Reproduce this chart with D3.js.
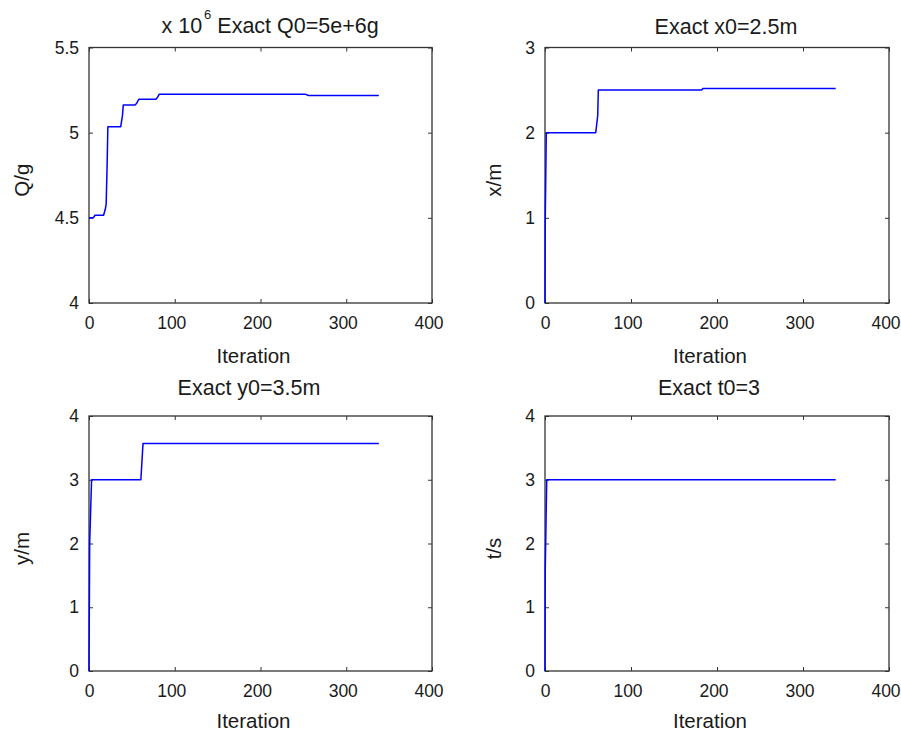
<!DOCTYPE html>
<html>
<head>
<meta charset="utf-8">
<script src="https://cdn.jsdelivr.net/npm/d3@7/dist/d3.min.js"></script>
<style>
body { margin: 0; background: #fff; }
text { font-family: "Liberation Sans", Arial, Helvetica, sans-serif; fill: #1a1a1a; }
</style>
</head>
<body>
<script>
// Configuration
var width = 901;
var height = 733;
var lineColor = '#0000ff';
var axisColor = '#333333';
var tickLen = 4;

// Data
var iterQ = [0, 5, 7, 17, 19, 20, 21, 22, 37, 39, 40, 54, 56, 58, 78, 80, 82, 252, 256, 338];
var valQ = [4.50, 4.50, 4.515, 4.515, 4.55, 4.58, 4.78, 5.035, 5.035, 5.10, 5.163, 5.163, 5.176, 5.196, 5.196, 5.208, 5.226, 5.226, 5.218, 5.218]; // x 10^6 g

var iterX = [0, 0.3, 1.5, 59, 61.3, 62, 182, 184, 338];
var valX = [0, 1.0, 2.0, 2.0, 2.2, 2.5, 2.5, 2.52, 2.52];

var iterY = [0, 0.8, 3, 60.5, 61.8, 63, 338];
var valY = [0, 2.0, 3.0, 3.0, 3.3, 3.57, 3.57];

var iterT = [0, 0.3, 2, 338];
var valT = [0, 1.6, 3.0, 3.0];

var xTicks = [0, 100, 200, 300, 400];
var qTicks = [4, 4.5, 5, 5.5];
var xPosTicks = [0, 1, 2, 3];
var yPosTicks = [0, 1, 2, 3, 4];
var tTicks = [0, 1, 2, 3, 4];

var titles = ['Exact Q0=5e+6g', 'Exact x0=2.5m', 'Exact y0=3.5m', 'Exact t0=3'];
var yLabels = ['Q/g', 'x/m', 'y/m', 't/s'];
var xLabel = 'Iteration';

// Panel layout
var panels = [
    { iters: iterQ, values: valQ, yDomain: [4, 5.5], yTicks: qTicks, title: titles[0], ylabel: yLabels[0],
      left: 89, right: 432, top: 47.5, bottom: 303, titleX: 298, titleY: 33, ylabelX: 29, xlabelDy: 60 },
    { iters: iterX, values: valX, yDomain: [0, 3], yTicks: xPosTicks, title: titles[1], ylabel: yLabels[1],
      left: 545, right: 889, top: 47.5, bottom: 303, titleX: 726, titleY: 34, ylabelX: 501, xlabelDy: 60 },
    { iters: iterY, values: valY, yDomain: [0, 4], yTicks: yPosTicks, title: titles[2], ylabel: yLabels[2],
      left: 89, right: 432, top: 416, bottom: 671, titleX: 249, titleY: 395, ylabelX: 29, xlabelDy: 57 },
    { iters: iterT, values: valT, yDomain: [0, 4], yTicks: tTicks, title: titles[3], ylabel: yLabels[3],
      left: 545, right: 889, top: 416, bottom: 671, titleX: 709, titleY: 395, ylabelX: 501, xlabelDy: 57 }
];

var svg = d3.select('body')
    .append('svg')
    .attr('width', width)
    .attr('height', height);

panels.forEach(function(p) {
    var x = d3.scaleLinear().domain([0, 400]).range([p.left, p.right]);
    var y = d3.scaleLinear().domain(p.yDomain).range([p.bottom, p.top]);
    var g = svg.append('g');

    // bottom axis with labels, ticks pointing inside
    var bottomAxis = g.append('g')
        .attr('transform', 'translate(0,' + p.bottom + ')')
        .call(d3.axisBottom(x).tickValues(xTicks).tickSizeInner(-tickLen).tickSizeOuter(0).tickPadding(14)
            .tickFormat(function(d) { return String(d); }));
    bottomAxis.selectAll('text')
        .attr('dx', function(d) { return d === 0 ? 0 : -3.5; });

    var leftAxis = g.append('g')
        .attr('transform', 'translate(' + p.left + ',0)')
        .call(d3.axisLeft(y).tickValues(p.yTicks).tickSizeInner(-tickLen).tickSizeOuter(0).tickPadding(10)
            .tickFormat(function(d) { return String(d); }));
    var topAxis = g.append('g')
        .attr('transform', 'translate(0,' + p.top + ')')
        .call(d3.axisTop(x).tickValues(xTicks).tickSizeInner(-tickLen).tickSizeOuter(0).tickFormat(''));
    var rightAxis = g.append('g')
        .attr('transform', 'translate(' + p.right + ',0)')
        .call(d3.axisRight(y).tickValues(p.yTicks).tickSizeInner(-tickLen).tickSizeOuter(0).tickFormat(''));

    [bottomAxis, leftAxis, topAxis, rightAxis].forEach(function(a) {
        a.select('.domain').remove();
        a.selectAll('line').attr('stroke', axisColor);
        a.selectAll('text')
            .attr('font-size', 17.5)
            .attr('fill', '#1a1a1a')
            .attr('font-family', '"Liberation Sans", Arial, Helvetica, sans-serif');
    });

    // box
    g.append('rect')
        .attr('x', p.left)
        .attr('y', p.top)
        .attr('width', p.right - p.left)
        .attr('height', p.bottom - p.top)
        .attr('fill', 'none')
        .attr('stroke', axisColor)
        .attr('stroke-width', 1.3);

    // series
    var line = d3.line()
        .x(function(d) { return x(d[0]); })
        .y(function(d) { return y(d[1]); });
    g.append('path')
        .datum(d3.zip(p.iters, p.values))
        .attr('d', line)
        .attr('fill', 'none')
        .attr('stroke', lineColor)
        .attr('stroke-width', 1.5)
        .attr('stroke-linejoin', 'round');

    // title
    g.append('text')
        .attr('x', p.titleX)
        .attr('y', p.titleY)
        .attr('text-anchor', 'middle')
        .attr('font-size', 21.5)
        .text(p.title);

    // x label
    g.append('text')
        .attr('x', (p.left + p.right) / 2 - 7)
        .attr('y', p.bottom + p.xlabelDy)
        .attr('text-anchor', 'middle')
        .attr('font-size', 20.5)
        .text(xLabel);

    // y label
    var cy = (p.top + p.bottom) / 2 + 5;
    g.append('text')
        .attr('transform', 'translate(' + p.ylabelX + ',' + cy + ') rotate(-90)')
        .attr('text-anchor', 'middle')
        .attr('font-size', 20.5)
        .text(p.ylabel);
});

// exponent label of the Q panel
var expLabel = svg.append('text')
    .attr('x', 161.5)
    .attr('y', 33)
    .attr('font-size', 21.5);
expLabel.append('tspan').text('x 10');
expLabel.append('tspan')
    .attr('x', 204)
    .attr('y', 18.5)
    .attr('font-size', 13)
    .text('6');
</script>
</body>
</html>
